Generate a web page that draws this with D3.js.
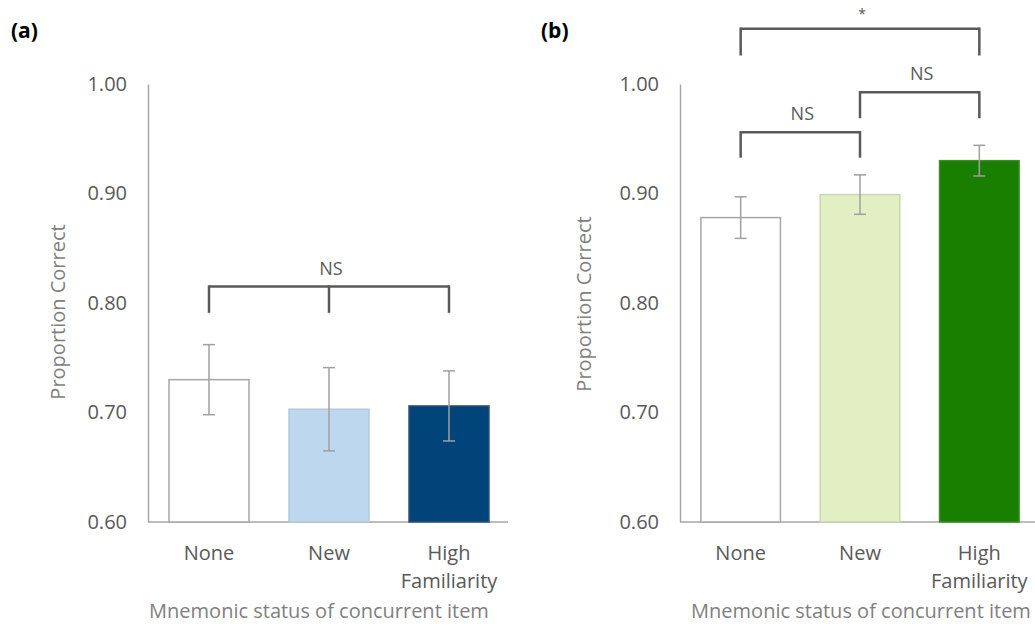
<!DOCTYPE html>
<html>
<head>
<meta charset="utf-8">
<script src="https://d3js.org/d3.v7.min.js"></script>
<style>
	body { margin: 0; background: #fff; }
	svg { display: block; font-family: "Open Sans", sans-serif; }
</style>
</head>
<body>
<svg id="chart" width="1035" height="631"></svg>
<script>
// Data
const categories = ["None", "New", "High Familiarity"];
const yTicks = [0.6, 0.7, 0.8, 0.9, 1.0];

const meansA = [0.730, 0.703, 0.706];
const errorsA = [0.032, 0.038, 0.032];
const fillsA = ["#ffffff", "#bdd7ee", "#004479"];
const strokesA = ["#a6a6a6", "#b4c9dc", "#2f5278"];

const meansB = [0.878, 0.899, 0.930];
const errorsB = [0.019, 0.018, 0.014];
const fillsB = ["#ffffff", "#e1efc3", "#187f00"];
const strokesB = ["#a6a6a6", "#c9d6b0", "#3d8a2a"];

// significance brackets: which bars, bracket level, leg end, label
const bracketsA = [
	{ legs: [0, 1, 2], top: 0.815, bottom: 0.791, label: "NS" }
];
const bracketsB = [
	{ legs: [0, 2], top: 1.0505, bottom: 1.026, label: "*" },
	{ legs: [1, 2], top: 0.9924, bottom: 0.9687, label: "NS" },
	{ legs: [0, 1], top: 0.9559, bottom: 0.9327, label: "NS" }
];

const svg = d3.select("#chart");

function drawPanel(opts) {
	const g = svg.append("g");

	// y position scale
	let y = d3.scaleLinear()
		.domain([0.6, 1.0])
		.range([522, 84]);

	// x position scale
	let x = d3.scaleBand()
		.domain(categories)
		.range([opts.left + 1, opts.right + 1])
		.paddingInner(1 / 3)
		.paddingOuter(1 / 6);

	// Y Axis
	let yAxis = g.append("g")
		.attr("transform", "translate(" + opts.left + ",0)")
		.call(d3.axisLeft(y).tickValues(yTicks).tickFormat(d3.format(".2f")).tickSize(0).tickPadding(21))
		.attr("font-family", null)
		.attr("font-size", null);
	yAxis.select(".domain").attr("stroke", "#a6a6a6").attr("stroke-width", 1.5);
	yAxis.selectAll("text")
		.attr("fill", "#595959")
		.style("font-size", "20px");

	// X Axis (labels drawn separately because of line wrap)
	let xAxis = g.append("g")
		.attr("transform", "translate(0," + y(0.6) + ")")
		.call(d3.axisBottom(x).tickSize(0).tickFormat(""));
	xAxis.select(".domain")
		.attr("d", "M" + opts.left + ",0H" + opts.right)
		.attr("stroke", "#a6a6a6").attr("stroke-width", 1.5);

	categories.forEach(function (c) {
		let words = c === "High Familiarity" ? ["High", "Familiarity"] : [c];
		let t = g.append("text")
			.attr("text-anchor", "middle")
			.attr("fill", "#595959")
			.style("font-size", "20px");
		words.forEach(function (w, i) {
			t.append("tspan")
				.attr("x", x(c) + x.bandwidth() / 2)
				.attr("y", 560 + i * 28)
				.text(w);
		});
	});

	// bars
	g.selectAll("rect.bar")
		.data(opts.means).enter()
		.append("rect")
		.attr("class", "bar")
		.attr("x", (d, i) => x(categories[i]))
		.attr("y", d => y(d))
		.attr("width", x.bandwidth())
		.attr("height", d => y(0.6) - y(d))
		.attr("fill", (d, i) => opts.fills[i])
		.attr("stroke", (d, i) => opts.strokes[i])
		.attr("stroke-width", 1.5);

	// error bars
	let eb = g.selectAll("g.err")
		.data(opts.means).enter()
		.append("g")
		.attr("class", "err")
		.attr("stroke", "#a0a0a0")
		.attr("stroke-width", 1.5);
	eb.append("line")
		.attr("x1", (d, i) => x(categories[i]) + x.bandwidth() / 2)
		.attr("x2", (d, i) => x(categories[i]) + x.bandwidth() / 2)
		.attr("y1", (d, i) => y(d + opts.errors[i]))
		.attr("y2", (d, i) => y(d - opts.errors[i]));
	[1, -1].forEach(function (s) {
		eb.append("line")
			.attr("x1", (d, i) => x(categories[i]) + x.bandwidth() / 2 - 6)
			.attr("x2", (d, i) => x(categories[i]) + x.bandwidth() / 2 + 6)
			.attr("y1", (d, i) => y(d + s * opts.errors[i]))
			.attr("y2", (d, i) => y(d + s * opts.errors[i]));
	});

	// significance brackets
	opts.brackets.forEach(function (b) {
		let xs = b.legs.map(i => x(categories[i]) + x.bandwidth() / 2);
		let x0 = d3.min(xs), x1 = d3.max(xs);
		g.append("line")
			.attr("x1", x0).attr("x2", x1)
			.attr("y1", y(b.top)).attr("y2", y(b.top))
			.attr("stroke", "#595959").attr("stroke-width", 2.5);
		xs.forEach(function (xx) {
			g.append("line")
				.attr("x1", xx).attr("x2", xx)
				.attr("y1", y(b.top) - 1.25).attr("y2", y(b.bottom))
				.attr("stroke", "#595959").attr("stroke-width", 2.5);
		});
		g.append("text")
			.attr("x", (x0 + x1) / 2 + 2)
			.attr("y", b.label === "*" ? y(b.top) - 10 : y(b.top) - 12)
			.attr("text-anchor", "middle")
			.attr("fill", "#595959")
			.style("font-size", b.label === "*" ? "14px" : "18px")
			.text(b.label);
	});

	// y axis title
	g.append("text")
		.attr("transform", "translate(" + opts.yTitleX + "," + opts.yTitleY + ") rotate(-90)")
		.attr("text-anchor", "middle")
		.attr("fill", "#7f7f7f")
		.style("font-size", "20px")
		.text("Proportion Correct");

	// x axis title
	g.append("text")
		.attr("x", opts.xTitleX)
		.attr("y", 618)
		.attr("text-anchor", "middle")
		.attr("fill", "#7f7f7f")
		.style("font-size", "20px")
		.text("Mnemonic status of concurrent item");

	// panel label
	g.append("text")
		.attr("x", opts.labelX)
		.attr("y", 38)
		.attr("fill", "#000")
		.style("font-size", "21px")
		.style("font-weight", "bold")
		.text(opts.label);
}

drawPanel({
	left: 148, right: 508, means: meansA, errors: errorsA,
	fills: fillsA, strokes: strokesA, brackets: bracketsA,
	yTitleX: 65, yTitleY: 312, xTitleX: 319, labelX: 11, label: "(a)"
});

drawPanel({
	left: 680, right: 1038, means: meansB, errors: errorsB,
	fills: fillsB, strokes: strokesB, brackets: bracketsB,
	yTitleX: 591, yTitleY: 304, xTitleX: 861, labelX: 541, label: "(b)"
});
</script>
</body>
</html>
